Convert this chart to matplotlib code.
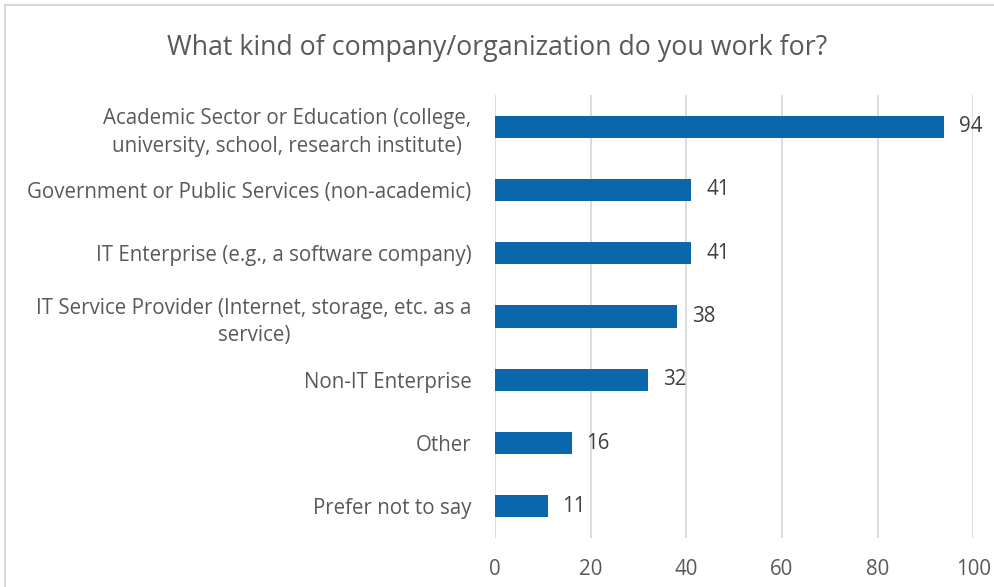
import matplotlib
matplotlib.use('Agg')
import matplotlib.pyplot as plt
from matplotlib.lines import Line2D

# survey answers, top to bottom
categories = [
    "Academic Sector or Education (college,\nuniversity, school, research institute)",
    "Government or Public Services (non-academic)",
    "IT Enterprise (e.g., a software company)",
    "IT Service Provider (Internet, storage, etc. as a\nservice)",
    "Non-IT Enterprise",
    "Other",
    "Prefer not to say",
]
counts = [94, 41, 41, 38, 32, 16, 11]
xticks = [0, 20, 40, 60, 80, 100]

title = "What kind of company/organization do you work for?"

bar_color = "#0B67AB"
grid_color = "#D9D9D9"
text_color = "#595959"

plt.rcParams['font.family'] = ['Open Sans', 'DejaVu Sans']

fig = plt.figure(figsize=(9.94, 5.87), dpi=100)
ax = fig.add_axes([0.498, 0.0835, 0.481, 0.7545])

ypos = list(range(len(categories)))
bars = ax.barh(ypos, counts, height=0.35, color=bar_color, zorder=3)
ax.set_ylim(len(categories) - 0.5, -0.5)
ax.set_xlim(0, 100)

ax.set_yticks(ypos)
ax.set_yticklabels(categories, fontsize=14.8, color=text_color,
                   multialignment='center', linespacing=1.4)
ax.set_xticks(xticks)
ax.set_xticklabels([str(t) for t in xticks], fontsize=14.8, color=text_color)
ax.tick_params(axis='y', length=0, pad=17)
ax.tick_params(axis='x', length=0, pad=15)

ax.grid(axis='x', color=grid_color, linewidth=1.3, zorder=0)
for s in ax.spines.values():
    s.set_visible(False)

for b, v in zip(bars, counts):
    ax.annotate(str(v), (b.get_width(), b.get_y() + b.get_height() / 2),
                xytext=(15, 0), textcoords='offset pixels',
                ha='left', va='center', fontsize=14.8, color="#404040")

fig.text(0.5, 0.918, title, ha='center', va='center', fontsize=19.3,
         color=text_color)

# chart frame (top and left edges)
fig.add_artist(Line2D([0.005, 0.999], [0.991, 0.991], transform=fig.transFigure,
                      color="#D9D9D9", linewidth=1.5))
fig.add_artist(Line2D([0.005, 0.005], [0.0, 0.991], transform=fig.transFigure,
                      color="#D9D9D9", linewidth=1.5))

fig.savefig('out.png', dpi=100)
